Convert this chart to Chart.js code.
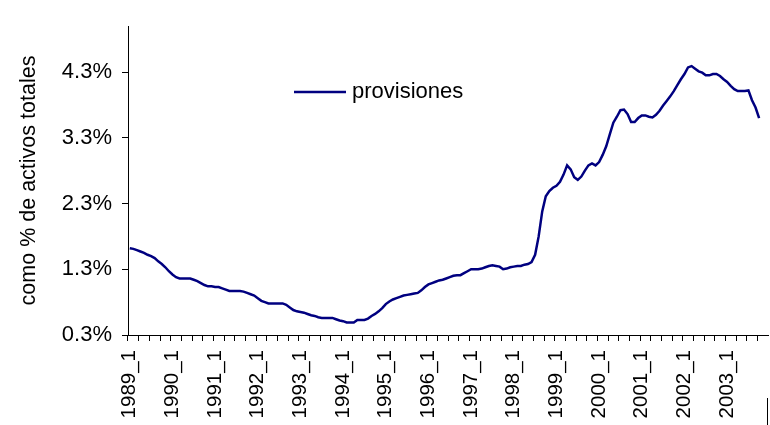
<!DOCTYPE html>
<html>
<head>
<meta charset="utf-8">
<script src="https://cdn.jsdelivr.net/npm/chart.js@4.4.1/dist/chart.umd.min.js"></script>
<style>
  html, body { margin: 0; padding: 0; background: #fff; }
  #wrap { position: relative; width: 770px; height: 425px; }
</style>
</head>
<body>
<div id="wrap"><canvas id="c" width="770" height="425"></canvas></div>
<script>
// ---- data ----
const years = [1989,1990,1991,1992,1993,1994,1995,1996,1997,1998,1999,2000,2001,2002,2003];
const months = [1,2,3,4,5,6,7,8,9,10,11,12];
const categories = [];
years.forEach(y => months.forEach(m => categories.push(y + '_' + m)));

const seriesName = 'provisiones';
// monthly values, % of total assets, 1989_1 .. 2003_10
const provisiones = [
  1.62,1.61,1.59,1.57,1.55,1.52,1.50,1.47,1.42,1.38,1.33,1.27,   // 1989
  1.22,1.18,1.16,1.16,1.16,1.16,1.14,1.12,1.09,1.06,1.04,1.04,   // 1990
  1.03,1.03,1.01,0.99,0.97,0.97,0.97,0.97,0.96,0.94,0.92,0.90,   // 1991
  0.86,0.82,0.80,0.78,0.78,0.78,0.78,0.78,0.76,0.72,0.68,0.66,   // 1992
  0.65,0.64,0.62,0.60,0.59,0.57,0.56,0.56,0.56,0.56,0.54,0.52,   // 1993
  0.51,0.49,0.49,0.49,0.53,0.53,0.53,0.55,0.59,0.62,0.66,0.71,   // 1994
  0.77,0.81,0.84,0.86,0.88,0.90,0.91,0.92,0.93,0.94,0.98,1.03,   // 1995
  1.07,1.09,1.11,1.13,1.14,1.16,1.18,1.20,1.21,1.21,1.24,1.27,   // 1996
  1.30,1.30,1.30,1.31,1.33,1.35,1.36,1.35,1.34,1.30,1.31,1.33,   // 1997
  1.34,1.35,1.35,1.37,1.38,1.41,1.52,1.80,2.18,2.41,2.49,2.54,   // 1998
  2.57,2.63,2.74,2.88,2.82,2.70,2.66,2.71,2.80,2.88,2.91,2.88,   // 1999
  2.93,3.04,3.17,3.35,3.53,3.62,3.72,3.73,3.66,3.54,3.54,3.60,   // 2000
  3.64,3.64,3.62,3.61,3.65,3.71,3.79,3.86,3.93,4.01,4.10,4.19,   // 2001
  4.27,4.37,4.39,4.35,4.31,4.29,4.25,4.25,4.27,4.27,4.24,4.19,   // 2002
  4.15,4.09,4.04,4.01,4.01,4.01,4.02,3.87,3.76,3.60               // 2003
];
const yTicks = [0.3, 1.3, 2.3, 3.3, 4.3];
const yMin = 0.3, yMax = 5.0;
const yTitle = 'como % de activos totales';

const FONT = '"Liberation Sans", Arial, sans-serif';
const NAVY = '#000080';

const legendPlugin = {
  id: 'manualLegend',
  afterDraw(chart) {
    const ctx = chart.ctx;
    ctx.save();
    ctx.strokeStyle = NAVY;
    ctx.lineWidth = 2.5;
    ctx.beginPath();
    ctx.moveTo(294, 92);
    ctx.lineTo(346, 92);
    ctx.stroke();
    ctx.fillStyle = '#000';
    ctx.font = '22px ' + FONT;
    ctx.textBaseline = 'middle';
    ctx.textAlign = 'left';
    ctx.fillText(seriesName, 352, 92);
    // frame edge at bottom right
    ctx.strokeStyle = '#000';
    ctx.lineWidth = 1;
    ctx.beginPath();
    ctx.moveTo(767.5, 398);
    ctx.lineTo(767.5, 425);
    ctx.stroke();
    ctx.restore();
  }
};

new Chart(document.getElementById('c'), {
  type: 'line',
  data: {
    labels: categories,
    datasets: [{
      label: seriesName,
      data: provisiones,
      borderColor: NAVY,
      backgroundColor: NAVY,
      borderWidth: 2.5,
      pointRadius: 0,
      tension: 0,
      fill: false
    }]
  },
  options: {
    responsive: false,
    animation: false,
    layout: { padding: { left: 0, top: 26, right: 2, bottom: 0 } },
    plugins: { legend: { display: false }, tooltip: { enabled: false } },
    scales: {
      x: {
        type: 'category',
        offset: true,
        afterFit(scale) { scale.height = 90; scale.paddingLeft = 0; scale.paddingRight = 0; },
        border: { display: true, color: '#000', width: 1 },
        grid: {
          offset: true,
          drawOnChartArea: false,
          drawTicks: true,
          tickLength: 6,
          lineWidth: 1,
          color: (c) => (c.index % 3 === 0 ? '#000' : 'rgba(0,0,0,0)')
        },
        ticks: {
          autoSkip: false,
          maxRotation: 90,
          minRotation: 90,
          padding: 9,
          color: '#000',
          font: { family: FONT, size: 20.5 },
          callback: (v, i) => (i % 12 === 0 ? categories[i] : '')
        }
      },
      y: {
        type: 'linear',
        min: yMin,
        max: yMax,
        afterFit(scale) { scale.width = 128; scale.paddingTop = 0; scale.paddingBottom = 0; },
        afterBuildTicks(scale) { scale.ticks = yTicks.map(v => ({ value: v })); },
        border: { display: true, color: '#000', width: 1 },
        grid: { drawOnChartArea: false, drawTicks: true, tickLength: 6, color: '#000' },
        ticks: {
          padding: 10,
          color: '#000',
          font: { family: FONT, size: 22 },
          callback: (v) => Number(v).toFixed(1) + '%'
        },
        title: {
          display: true,
          text: yTitle,
          color: '#000',
          font: { family: FONT, size: 21.5 },
          padding: { top: 16, bottom: 0 }
        }
      }
    }
  },
  plugins: [legendPlugin]
});
</script>
</body>
</html>
